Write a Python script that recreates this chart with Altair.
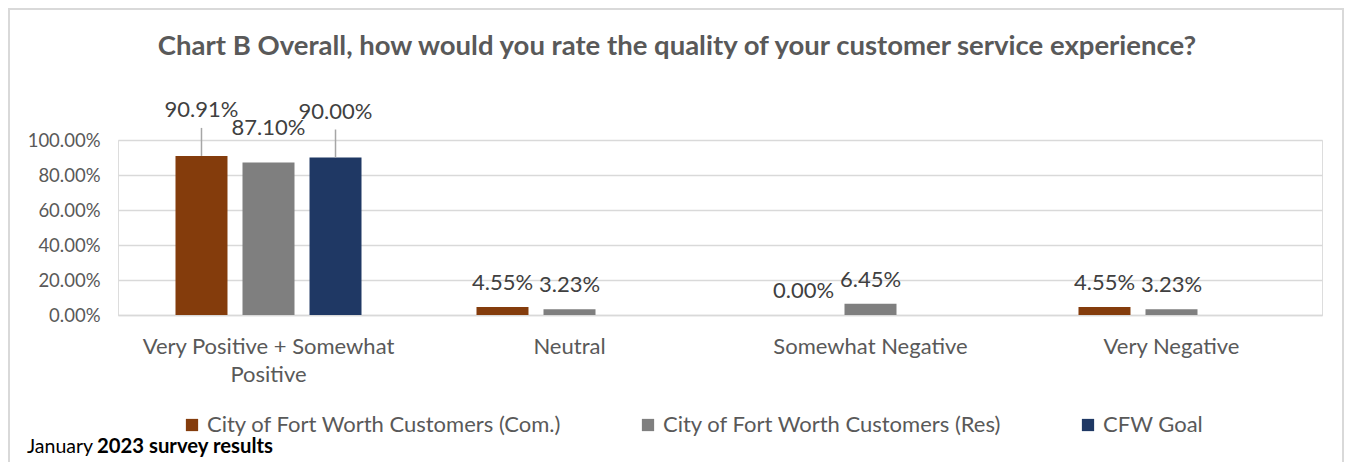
import altair as alt
import pandas as pd

categories = ["Very Positive + Somewhat Positive", "Neutral", "Somewhat Negative", "Very Negative"]
series = ["City of Fort Worth Customers (Com.)", "City of Fort Worth Customers (Res)", "CFW Goal"]
com_values = [0.9091, 0.0455, 0.0, 0.0455]
res_values = [0.8710, 0.0323, 0.0645, 0.0323]
goal_values = [0.90, None, None, None]
colors = ["#843C0C", "#7F7F7F", "#1F3864"]
y_ticks = [0.0, 0.2, 0.4, 0.6, 0.8, 1.0]

title_text = "Chart B Overall, how would you rate the quality of your customer service experience?"
foot_normal = "January"
foot_bold = "2023 survey results"

rows = []
for s, vals in zip(series, [com_values, res_values, goal_values]):
    for c, v in zip(categories, vals):
        if v is not None:
            rows.append({"category": c, "series": s, "value": v})
df = pd.DataFrame(rows)

FONT = "Lato"
TXT = "#595959"
W, H = 1204, 175

x_enc = alt.X("category:N", sort=categories,
              scale=alt.Scale(paddingInner=0, paddingOuter=0),
              axis=alt.Axis(title=None, labelAngle=0, domain=True, domainColor="#D9D9D9",
                            domainWidth=1.5, ticks=False, grid=False, labelPadding=21,
                            labelFontSize=22, labelColor=TXT, labelFont=FONT, labelLimit=0,
                            labelLineHeight=28, labelBaseline="top",
                            labelExpr="datum.label == 'Very Positive + Somewhat Positive' ? ['Very Positive + Somewhat', 'Positive'] : datum.label"))
xo_enc = alt.XOffset("series:N", sort=series,
                     scale=alt.Scale(domain=series, paddingInner=0.224, paddingOuter=0.858))
y_enc = alt.Y("value:Q", scale=alt.Scale(domain=[0, 1], nice=False),
              axis=alt.Axis(title=None, values=y_ticks, format=".2%", domain=False, ticks=False,
                            grid=True, gridColor="#D9D9D9", gridWidth=1.5, labelOverlap=False,
                            labelFontSize=18.5, labelColor=TXT, labelFont=FONT, labelPadding=18))

base = alt.Chart(df)

bars = base.mark_bar().encode(
    x=x_enc, xOffset=xo_enc, y=y_enc,
    color=alt.Color("series:N", sort=series,
                    scale=alt.Scale(domain=series, range=colors),
                    legend=alt.Legend(title=None, orient="none", legendX=63, legendY=274,
                                      direction="horizontal", symbolType="square",
                                      symbolSize=150, symbolStrokeWidth=0, labelLimit=0,
                                      labelFontSize=22, labelColor=TXT, labelFont=FONT,
                                      columnPadding=75, labelOffset=4)),
)

lbl_common = dict(fontSize=22, font=FONT, color="#404040", baseline="middle", align="center")

first = categories[0]
lead = base.transform_filter(
    (alt.datum.category == first) & (alt.datum.series != series[1])
)
lbl_lead = lead.mark_text(dy=-46, **lbl_common).encode(
    x=x_enc, xOffset=xo_enc, y=y_enc,
    text=alt.Text("value:Q", format=".2%"))
rules_lead = lead.mark_rule(color="#A6A6A6", strokeWidth=1.5, y2Offset=-28).encode(
    x=x_enc, xOffset=xo_enc, y=y_enc, y2="value:Q")

lbl_res_first = base.transform_filter(
    (alt.datum.category == first) & (alt.datum.series == series[1])
).mark_text(dy=-35, **lbl_common).encode(
    x=x_enc, xOffset=xo_enc, y=y_enc,
    text=alt.Text("value:Q", format=".2%"))

lbl_rest = base.transform_filter(alt.datum.category != first).mark_text(dy=-24, **lbl_common).encode(
    x=x_enc, xOffset=xo_enc, y=y_enc,
    text=alt.Text("value:Q", format=".2%"))

one = alt.Chart(pd.DataFrame({"t": [title_text], "a": [foot_normal], "b": [foot_bold]}))
title = one.mark_text(font=FONT, fontSize=27.5, fontWeight="bold", color=TXT, align="center",
                      baseline="middle").encode(x=alt.value(559), y=alt.value(-93), text="t:N")
foot1 = one.mark_text(font=FONT, fontSize=19.5, color="#000000", align="left",
                      baseline="middle").encode(x=alt.value(-91), y=alt.value(307), text="a:N")
foot2 = one.mark_text(font=FONT, fontSize=20.3, fontWeight="bold", color="#000000", align="left",
                      baseline="middle").encode(x=alt.value(-21), y=alt.value(307), text="b:N")
border = one.mark_rect(filled=False, stroke="#D9D9D9", strokeWidth=2).encode(
    x=alt.value(-109), x2=alt.value(W + 21), y=alt.value(-131), y2=alt.value(H + 160))

chart = alt.layer(border, bars, rules_lead, lbl_lead, lbl_res_first, lbl_rest, title, foot1, foot2).properties(
    width=W, height=H,
    autosize=alt.AutoSizeParams(type="none"),
    padding={"left": 110, "top": 132, "right": 22, "bottom": 147},
).configure_view(stroke=None).configure_axisY(labelOverlap=False).configure(background="white")

chart.save("out.html", embed_options={"renderer": "svg", "actions": False})
